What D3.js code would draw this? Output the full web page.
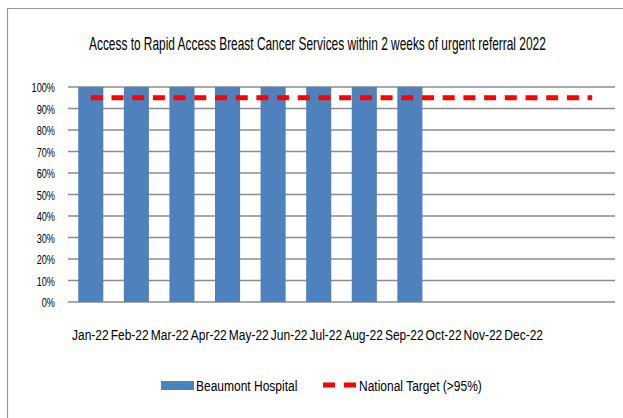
<!DOCTYPE html>
<html>
<head>
<meta charset="utf-8">
<script src="https://cdn.jsdelivr.net/npm/d3@7"></script>
<style>
  body { margin: 0; background: #fff; }
  text { font-family: "Liberation Sans", Arial, sans-serif; fill: #000; }
</style>
</head>
<body>
<div id="chart"></div>
<script>
// data
var months = ["Jan-22", "Feb-22", "Mar-22", "Apr-22", "May-22", "Jun-22",
              "Jul-22", "Aug-22", "Sep-22", "Oct-22", "Nov-22", "Dec-22"];
var beaumont = [100, 100, 100, 100, 100, 100, 100, 100, null, null, null, null];
var target = [95, 95, 95, 95, 95, 95, 95, 95, 95, 95, 95, 95];
var yTicks = [0, 10, 20, 30, 40, 50, 60, 70, 80, 90, 100];

var width = 623, height = 418;
var margin = {top: 87, right: 8, bottom: 116, left: 68};

var svg = d3.select("#chart").append("svg")
    .attr("width", width)
    .attr("height", height);

// the original uses a narrow font, so squeeze text horizontally
function place(sel, px, py, sx) {
    return sel.attr("transform", "translate(" + px + "," + py + ") scale(" + sx + ",1)");
}

// outer frame (cut off on right/bottom like the screenshot)
svg.append("path")
    .attr("d", "M7.5," + height + "V8.5H" + width)
    .attr("fill", "none")
    .attr("stroke", "#999")
    .attr("stroke-width", 1.2);

var title = svg.append("text")
    .style("font-size", "18px")
    .text("Access to Rapid Access Breast Cancer Services within 2 weeks of urgent referral 2022");
var tw = title.node().getComputedTextLength();
place(title, 89, 50, 457 / tw);

var x = d3.scaleBand()
    .domain(months)
    .range([margin.left, width - margin.right])
    .paddingInner(0.45)
    .paddingOuter(0.225);

var y = d3.scaleLinear()
    .domain([0, 100])
    .range([height - margin.bottom, margin.top]);

// gridlines
svg.append("g")
    .selectAll("line")
    .data(yTicks)
    .enter().append("line")
    .attr("x1", margin.left)
    .attr("x2", width - margin.right)
    .attr("y1", function(d) { return y(d); })
    .attr("y2", function(d) { return y(d); })
    .attr("stroke", "#8c8c8c")
    .attr("stroke-width", 1.5);

// y labels
svg.append("g")
    .selectAll("text")
    .data(yTicks)
    .enter().append("text")
    .attr("text-anchor", "end")
    .style("font-size", "13.5px")
    .text(function(d) { return d + "%"; })
    .each(function(d) { place(d3.select(this), 55, y(d) + 5, 0.68); });

// bars
svg.append("g")
    .selectAll("rect")
    .data(months.map(function(m, i) { return {m: m, v: beaumont[i]}; })
        .filter(function(d) { return d.v != null; }))
    .enter().append("rect")
    .attr("x", function(d) { return x(d.m); })
    .attr("y", function(d) { return y(d.v); })
    .attr("width", x.bandwidth())
    .attr("height", function(d) { return y(0) - y(d.v); })
    .attr("fill", "#4f81bd");

// target line
var line = d3.line()
    .x(function(d, i) { return x(months[i]) + x.bandwidth() / 2; })
    .y(function(d) { return y(d); });

svg.append("path")
    .datum(target)
    .attr("d", line)
    .attr("fill", "none")
    .attr("stroke", "#ff0000")
    .attr("stroke-width", 5)
    .attr("stroke-dasharray", "12,8.7");

// month labels: packed one after the other like in the original (72 -> 543)
var sx = 0.8;
var labels = svg.append("g")
    .selectAll("text")
    .data(months)
    .enter().append("text")
    .style("font-size", "15px")
    .text(function(d) { return d; });
var widths = [];
labels.each(function() { widths.push(this.getComputedTextLength() * sx); });
var gap = (543 - 72 - d3.sum(widths)) / (months.length - 1);
var cx = 72;
labels.each(function(d, i) {
    place(d3.select(this), cx, 340, sx);
    cx += widths[i] + gap;
});

// legend
var legend = svg.append("g");
legend.append("rect")
    .attr("x", 161).attr("y", 381)
    .attr("width", 33).attr("height", 9)
    .attr("fill", "#4f81bd");
place(legend.append("text").style("font-size", "15px").text("Beaumont Hospital"), 196, 391, 0.8);
legend.append("line")
    .attr("x1", 323).attr("x2", 356)
    .attr("y1", 385).attr("y2", 385)
    .attr("stroke", "#ff0000")
    .attr("stroke-width", 5)
    .attr("stroke-dasharray", "12,9");
place(legend.append("text").style("font-size", "15px").text("National Target (>95%)"), 359, 391, 0.8);
</script>
</body>
</html>
